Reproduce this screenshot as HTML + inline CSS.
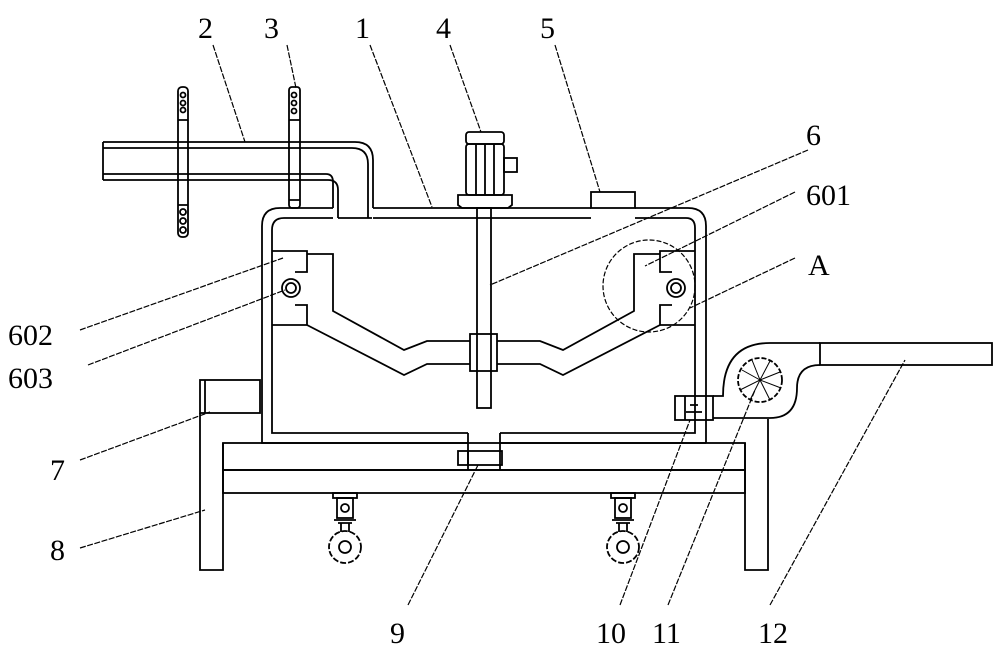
<!DOCTYPE html>
<html><head><meta charset="utf-8"><style>html,body{margin:0;padding:0;background:#fff}svg{display:block}</style></head><body>
<svg width="1000" height="657" viewBox="0 0 1000 657" xmlns="http://www.w3.org/2000/svg" font-family="Liberation Serif, serif" font-size="30">
<g fill="none" stroke="#000" stroke-width="1.8">
<!-- pipe 2 -->
<path d="M103 142 H355 Q373 142 373 160 V208"/>
<path d="M103 148 H352 Q368 148 368 164 V218"/>
<path d="M103 142 V180"/>
<path d="M103 180 H328 Q338 180 338 190 V218"/>
<path d="M103 174 H326 Q333 174 333 182 V208"/>
<!-- tank -->
<path d="M338 218 H372"/>
<path d="M333 208 H280 Q262 208 262 226 V443 H468"/>
<path d="M333 218 H284 Q272 218 272 230 V433 H468"/>
<path d="M373 208 H591 M635 208 H688 Q706 208 706 226 V443"/>
<path d="M373 218 H591 M635 218 H686 Q695 218 695 228 V433 H500"/>
<path d="M500 443 H706"/>
<rect x="591" y="192" width="44" height="16"/>
<!-- motor -->
<rect x="466" y="132" width="38" height="12" rx="3"/>
<rect x="466" y="144" width="38" height="51" rx="3"/>
<path d="M476 144V195 M485 144V195 M494 144V195"/>
<rect x="504" y="158" width="13" height="14"/>
<path d="M458 195 H512 V205 L508 208 H462 L458 205 Z"/>
<rect x="477" y="208" width="14" height="200"/>
<rect x="470" y="334" width="27" height="37"/>
<!-- sieve plate left -->
<path d="M272 251 H307 V272 H295 M295 305 H307 V325 H272"/>
<path d="M307 254 H333 V311 L404 350 L427 341 H470"/>
<path d="M307 325 L404 375 L427 364 H470"/>
<circle cx="291" cy="288" r="9"/><circle cx="291" cy="288" r="5"/>
<!-- sieve plate right -->
<path d="M695 251 H660 V272 H672 M672 305 H660 V325 H695"/>
<path d="M660 254 H634 V311 L563 350 L540 341 H497"/>
<path d="M660 325 L563 375 L540 364 H497"/>
<circle cx="676" cy="288" r="9"/><circle cx="676" cy="288" r="5"/>
<circle cx="649" cy="286" r="46" stroke-dasharray="5 2" stroke-width="1.2"/>
<!-- drain 9 -->
<path d="M468 433 V470 M500 433 V470"/>
<rect x="458" y="451" width="44" height="14"/>
<path d="M468 451 V465"/>
<!-- frame -->
<rect x="200" y="380" width="60" height="33"/>
<path d="M205 380 V413"/>
<rect x="223" y="443" width="522" height="27"/>
<rect x="223" y="470" width="522" height="23"/>
<path d="M200 413 V570 H223 V443"/>
<path d="M745 443 V570 H768 V419"/>
<!-- casters -->
<g id="c">
<rect x="333" y="493" width="24" height="5"/>
<rect x="337" y="498" width="16" height="20"/>
<circle cx="345" cy="508" r="4"/>
<path d="M334 520 H356 M338 523 H352 M341 523 V532 M349 523 V532"/>
<circle cx="345" cy="547" r="16" stroke-dasharray="6 2"/>
<circle cx="345" cy="547" r="6"/>
</g>
<use href="#c" x="278"/>
<!-- valve 10 -->
<rect x="675" y="396" width="38" height="24"/>
<path d="M685 396 V420 M690 405 H698 M686 412 H702"/>
<!-- fan 11 housing -->
<path d="M713 396 H723 Q723 343 770 343 H820 M713 418 H770 Q797 418 797 388 Q797 365 820 365"/>
<circle cx="760" cy="380" r="22" stroke-dasharray="5 2"/>
<path d="M760 380 L742 370 M760 380 L752 360 M760 380 L770 361 M760 380 L780 372 M760 380 L781 388 M760 380 L770 400 M760 380 L750 400 M760 380 L740 390" stroke-width="1"/>
<rect x="820" y="343" width="172" height="22"/>
<!-- sprocket chains -->
<rect x="178" y="87" width="10" height="150" rx="4"/>
<path d="M178 120 H188 M178 205 H188"/>
<circle cx="183" cy="95" r="2.5"/><circle cx="183" cy="103" r="2.5"/><circle cx="183" cy="110" r="2.5"/>
<circle cx="183" cy="212" r="3"/><circle cx="183" cy="221" r="3"/><circle cx="183" cy="230" r="3"/>
<rect x="289" y="87" width="11" height="121" rx="3"/>
<path d="M289 120 H300 M289 200 H300"/>
<circle cx="294" cy="95" r="2.5"/><circle cx="294" cy="103" r="2.5"/><circle cx="294" cy="111" r="2.5"/>
</g>
<!-- leaders -->
<g stroke="#000" stroke-width="1.2" fill="none" stroke-dasharray="6 1.5">
<path d="M213 45 L245 142"/><path d="M287 45 L296 88"/><path d="M370 45 L432 207"/>
<path d="M450 45 L481 132"/><path d="M555 45 L600 192"/><path d="M808 150 L490 285"/>
<path d="M795 192 L645 266"/><path d="M795 258 L690 308"/><path d="M80 330 L283 258"/>
<path d="M88 365 L285 290"/><path d="M80 460 L210 412"/><path d="M80 548 L205 510"/>
<path d="M408 605 L478 465"/><path d="M620 605 L690 420"/><path d="M668 605 L755 390"/>
<path d="M770 605 L905 360"/>
</g>
<g fill="#000">
<text x="198" y="38">2</text><text x="264" y="38">3</text><text x="355" y="38">1</text>
<text x="436" y="38">4</text><text x="540" y="38">5</text><text x="806" y="145">6</text>
<text x="806" y="205">601</text><text x="808" y="275">A</text>
<text x="8" y="345">602</text><text x="8" y="388">603</text>
<text x="50" y="480">7</text><text x="50" y="560">8</text>
<text x="390" y="643">9</text><text x="596" y="643">10</text><text x="652" y="643">11</text><text x="758" y="643">12</text>
</g>
</svg>
</body></html>
